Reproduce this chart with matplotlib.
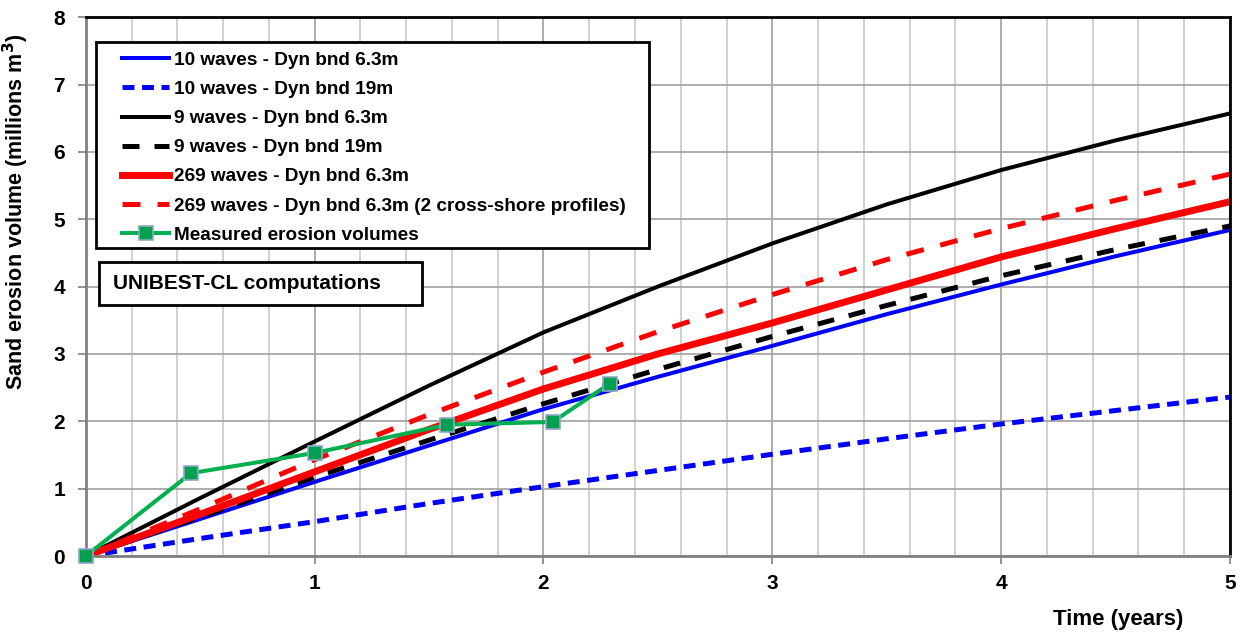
import matplotlib
matplotlib.use("Agg")
import matplotlib.pyplot as plt
from matplotlib.patches import Rectangle
from matplotlib.ticker import MultipleLocator

plt.rcParams['font.family'] = ['Liberation Sans', 'DejaVu Sans']
plt.rcParams['font.weight'] = 'bold'

# UNIBEST-CL model runs, sampled every half year
t_model = [0, 0.5, 1, 1.5, 2, 2.5, 3, 3.5, 4, 4.5, 5]
w10_63 = [0, 0.55, 1.10, 1.64, 2.18, 2.66, 3.12, 3.59, 4.03, 4.45, 4.84]
w10_19 = [0, 0.26, 0.51, 0.78, 1.03, 1.27, 1.51, 1.74, 1.96, 2.16, 2.36]
w9_63 = [0, 0.86, 1.70, 2.53, 3.32, 4.00, 4.64, 5.22, 5.73, 6.17, 6.57]
w9_19 = [0, 0.58, 1.17, 1.72, 2.26, 2.77, 3.26, 3.72, 4.16, 4.55, 4.90]
w269_63 = [0, 0.62, 1.25, 1.88, 2.48, 3.00, 3.46, 3.95, 4.44, 4.86, 5.26]
w269_2p = [0, 0.70, 1.43, 2.10, 2.73, 3.33, 3.88, 4.40, 4.86, 5.28, 5.67]

# measured erosion volumes
t_meas = [0, 0.46, 1.0, 1.58, 2.04, 2.29]
v_meas = [0, 1.23, 1.53, 1.95, 1.99, 2.56]

fig = plt.figure(figsize=(12.43, 6.35), dpi=100)
ax = fig.add_axes([0.069, 0.1244, 0.9205, 0.8486])

ax.plot(t_model, w10_63, color='#0000ff', lw=2.9, label='10 waves - Dyn bnd 6.3m')
ax.plot(t_model, w10_19, color='#0000ff', lw=3.6, ls=(0, (2.4, 1.5)),
        label='10 waves - Dyn bnd 19m')
ax.plot(t_model, w9_63, color='black', lw=2.9, label='9 waves - Dyn bnd 6.3m')
ax.plot(t_model, w9_19, color='black', lw=3.6, ls=(0, (3.4, 3.0)),
        label='9 waves - Dyn bnd 19m')
ax.plot(t_model, w269_63, color='#ff0000', lw=5.0, label='269 waves - Dyn bnd 6.3m')
ax.plot(t_model, w269_2p, color='#ff0000', lw=3.6, ls=(0, (3.6, 3.4)),
        label='269 waves - Dyn bnd 6.3m (2 cross-shore profiles)')
ax.plot(t_meas, v_meas, color='#00b050', lw=2.9, marker='s', ms=10,
        mfc='#00a050', mec='#8fa8c8', mew=1.2, label='Measured erosion volumes',
        zorder=5, clip_on=False)

ax.set_xlim(0, 5)
ax.set_ylim(0, 8)
ax.xaxis.set_major_locator(MultipleLocator(1))
ax.xaxis.set_minor_locator(MultipleLocator(0.2))
ax.yaxis.set_major_locator(MultipleLocator(1))
ax.grid(True, which='major', color='#a0a0a0', lw=1.2)
ax.grid(True, which='minor', axis='x', color='#c8c8c8', lw=1.2)
ax.set_axisbelow(True)

ax.tick_params(axis='both', which='major', labelsize=15, length=6, width=1.2,
               color='#808080', direction='out')
ax.tick_params(axis='x', which='minor', length=0)
ax.tick_params(axis='x', pad=7)
ax.tick_params(axis='y', pad=9)

for side in ['left', 'bottom']:
    ax.spines[side].set_color('#808080')
    ax.spines[side].set_linewidth(2)
for side in ['top', 'right']:
    ax.spines[side].set_color('black')
    ax.spines[side].set_linewidth(2)

ax.set_xlabel('Time (years)', fontsize=16, fontweight='bold')
ax.xaxis.set_label_coords(0.902, -0.098)
ax.set_ylabel('Sand erosion volume (millions m$^{\\mathbf{3}}$)', fontsize=15.5,
              fontweight='bold')
ax.yaxis.set_label_coords(-0.048, 0.638)

# legend box drawn separately so the padding can differ left/top
ax.add_patch(Rectangle((0.0087, 0.5723), 0.4834, 0.3822, transform=ax.transAxes,
                       fc='white', ec='black', lw=2, zorder=9))
leg = ax.legend(loc='upper left', bbox_to_anchor=(0.0315, 0.936),
                prop={'weight': 'bold', 'size': 13.7}, frameon=False,
                handlelength=2.5, handletextpad=0.25, labelspacing=0.62,
                borderpad=0, borderaxespad=0)
leg.set_zorder(10)

ax.add_patch(Rectangle((0.0114, 0.4657), 0.2823, 0.0798, transform=ax.transAxes,
                       fc='white', ec='black', lw=2, zorder=9))
ax.text(0.0236, 0.5065, 'UNIBEST-CL computations', transform=ax.transAxes,
        fontsize=15, fontweight='bold', va='center', ha='left', zorder=11)

fig.savefig('out.png', dpi=100)
